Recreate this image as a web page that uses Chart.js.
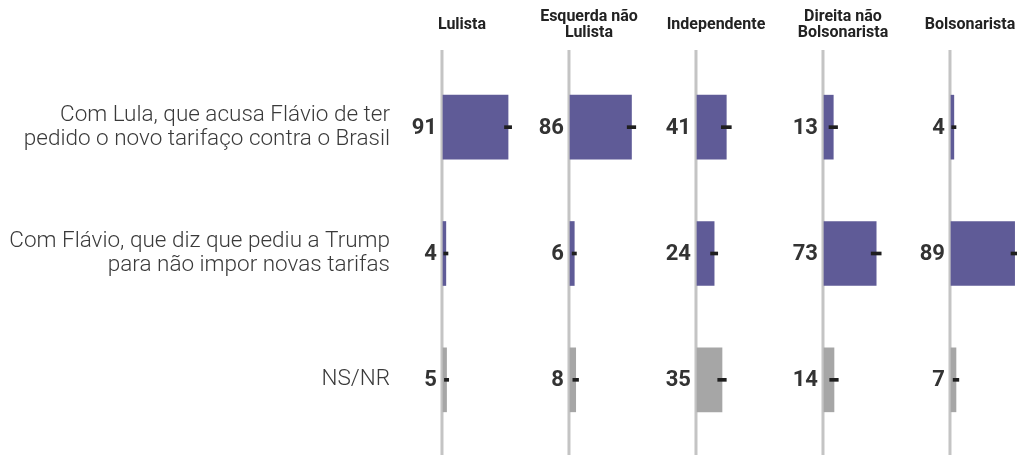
<!DOCTYPE html>
<html>
<head>
<meta charset="utf-8">
<script src="https://cdn.jsdelivr.net/npm/chart.js@4/dist/chart.umd.min.js"></script>
<style>
  html, body { margin: 0; padding: 0; background: #ffffff; overflow: hidden; }
  #wrap { position: relative; width: 1017px; height: 455px; overflow: hidden; }
</style>
</head>
<body>
<div id="wrap"><canvas id="c" width="1030" height="455"></canvas></div>
<script>
// ---- Data ----
const rowLabels = [
  ['Com Lula, que acusa Flávio de ter', 'pedido o novo tarifaço contra o Brasil'],
  ['Com Flávio, que diz que pediu a Trump', 'para não impor novas tarifas'],
  'NS/NR'
];
const groupLabels = [
  ['Lulista'],
  ['Esquerda não', 'Lulista'],
  ['Independente'],
  ['Direita não', 'Bolsonarista'],
  ['Bolsonarista']
];
const lulista = [91, 4, 5];
const esquerdaNaoLulista = [86, 6, 8];
const independente = [41, 24, 35];
const direitaNaoBolsonarista = [13, 73, 14];
const bolsonarista = [4, 89, 7];
// margins of error (± points)
const moeLulista = [5, 3, 3];
const moeEsquerda = [6, 3, 4];
const moeIndependente = [7, 5, 6];
const moeDireita = [6, 7, 6];
const moeBolsonarista = [3, 5, 4];

const groupValues = [lulista, esquerdaNaoLulista, independente, direitaNaoBolsonarista, bolsonarista];
const groupMoe = [moeLulista, moeEsquerda, moeIndependente, moeDireita, moeBolsonarista];

// ---- Styles ----
const PURPLE = '#5f5b97';
const GRAY = '#a6a6a6';
const rowColors = [PURPLE, PURPLE, GRAY];

const datasets = [];
const scales = {
  y: {
    type: 'category',
    offset: true,
    grid: { display: false, drawTicks: false },
    border: { display: false },
    ticks: {
      color: '#3a3a3a',
      padding: 5,
      font: { family: 'Roboto', size: 22.5, weight: '300', lineHeight: 1.07 }
    },
    afterFit: (s) => { s.width = 395; s.paddingTop = 0; s.paddingBottom = 0; }
  }
};

groupValues.forEach((vals, p) => {
  const id = 'x' + p;
  scales[id] = {
    type: 'linear',
    position: 'bottom',
    stack: 'panels',
    stackWeight: 1,
    min: -67.1,
    max: 110.5,
    grid: { display: false, drawTicks: false },
    border: { display: false },
    ticks: { display: false },
    afterFit: (s) => { s.height = 0; }
  };
  datasets.push({
    type: 'bar',
    label: groupLabels[p].join(' '),
    data: vals,
    xAxisID: id,
    yAxisID: 'y',
    backgroundColor: rowColors,
    barThickness: 64,
    grouped: false,
    isMain: true,
    order: 2
  });
  datasets.push({
    type: 'bar',
    label: 'moe ' + p,
    data: vals.map((v, i) => [Math.max(0, v - groupMoe[p][i]), v + groupMoe[p][i]]),
    xAxisID: id,
    yAxisID: 'y',
    backgroundColor: '#1f1f1f',
    barThickness: 3,
    grouped: false,
    order: 1
  });
});

const decorPlugin = {
  id: 'decor',
  beforeDatasetsDraw(chart) {
    const ctx = chart.ctx;
    ctx.save();
    ctx.strokeStyle = '#c4c4c4';
    ctx.lineWidth = 3;
    groupValues.forEach((_, p) => {
      const sc = chart.scales['x' + p];
      const x = sc.getPixelForValue(0) - 1;
      ctx.beginPath();
      ctx.moveTo(x, 50);
      ctx.lineTo(x, chart.height);
      ctx.stroke();
    });
    ctx.restore();
  },
  afterDatasetsDraw(chart) {
    const ctx = chart.ctx;
    ctx.save();
    ctx.fillStyle = '#333333';
    ctx.font = 'bold 22px Roboto';
    ctx.textAlign = 'right';
    ctx.textBaseline = 'middle';
    chart.data.datasets.forEach((ds, di) => {
      if (!ds.isMain) return;
      const meta = chart.getDatasetMeta(di);
      meta.data.forEach((el, i) => {
        const { y, base } = el.getProps(['y', 'base'], true);
        ctx.fillText(String(ds.data[i]), base - 6, y + 1);
      });
    });
    // headers
    ctx.fillStyle = '#222222';
    ctx.font = 'bold 16px Roboto';
    ctx.textAlign = 'center';
    ctx.textBaseline = 'alphabetic';
    groupLabels.forEach((lines, p) => {
      const sc = chart.scales['x' + p];
      const x = sc.getPixelForValue(0) + 19;
      if (lines.length === 1) {
        ctx.fillText(lines[0], x, 29);
      } else {
        ctx.fillText(lines[0], x, 21);
        ctx.fillText(lines[1], x, 37);
      }
    });
    ctx.restore();
  }
};

new Chart(document.getElementById('c'), {
  type: 'bar',
  data: { labels: rowLabels, datasets },
  options: {
    indexAxis: 'y',
    responsive: false,
    animation: false,
    layout: { padding: { top: 64, bottom: 12, left: 0, right: 0 } },
    plugins: { legend: { display: false }, tooltip: { enabled: false } },
    scales
  },
  plugins: [decorPlugin]
});
</script>
</body>
</html>
